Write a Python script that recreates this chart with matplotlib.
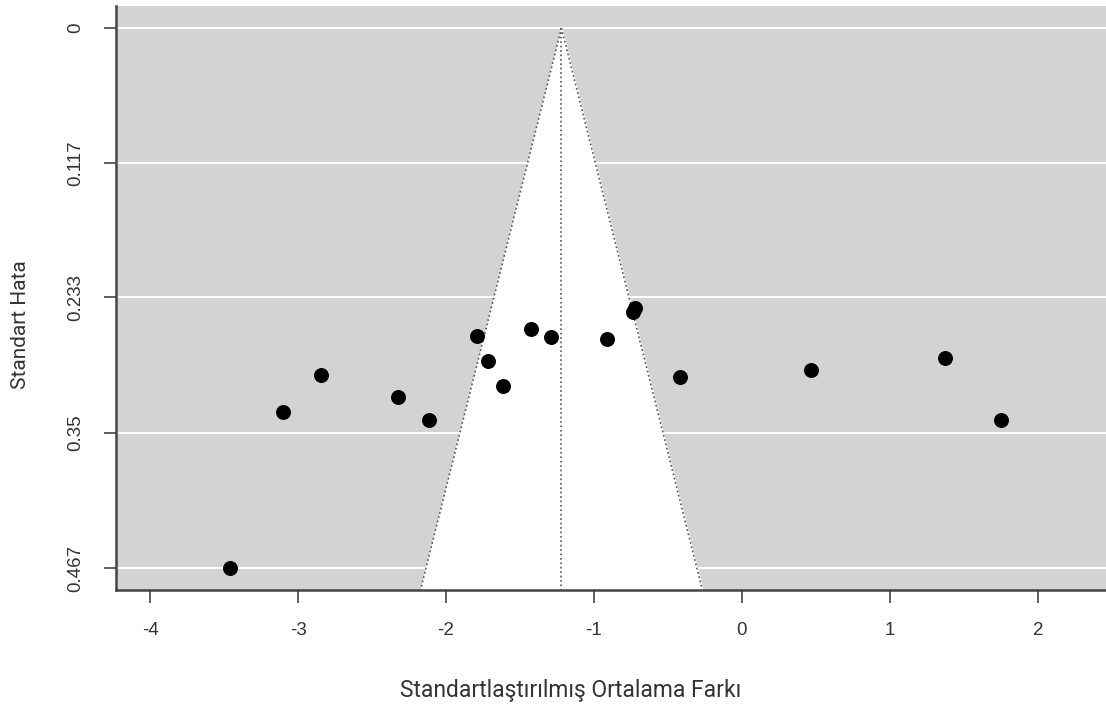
import matplotlib
matplotlib.use("Agg")
import matplotlib.pyplot as plt
import numpy as np

# effect sizes (standardized mean difference) and their standard errors
smd = [-3.46, -3.10, -2.845, -2.324, -2.115, -1.79, -1.716, -1.615, -1.426,
       -1.29, -0.912, -0.736, -0.723, -0.419, 0.466, 1.372, 1.75]
se = [0.467, 0.332, 0.300, 0.319, 0.339, 0.266, 0.288, 0.310, 0.260,
      0.267, 0.269, 0.246, 0.242, 0.302, 0.296, 0.285, 0.339]
pooled = -1.22
yticks = [0, 0.117, 0.233, 0.35, 0.467]
ytick_labels = ["0", "0.117", "0.233", "0.35", "0.467"]
xticks = [-4, -3, -2, -1, 0, 1, 2]

plt.rcParams['font.family'] = ['Liberation Sans', 'DejaVu Sans']

fig = plt.figure(figsize=(11.06, 7.07), dpi=100)
ax = fig.add_axes([0.1049, 0.1655, 0.8951, 0.826])

ylo, yhi = -0.019, 0.486
ax.set_xlim(-4.23, 2.46)
ax.set_ylim(yhi, ylo)
ax.set_facecolor("#d3d3d3")

# funnel region
se_line = np.array([0, yhi])
ax.fill_betweenx(se_line, pooled - 1.96 * se_line, pooled + 1.96 * se_line,
                 color="white", zorder=2)
ax.plot(pooled - 1.96 * se_line, se_line, ls=":", color="#555555", lw=1.2, zorder=3)
ax.plot(pooled + 1.96 * se_line, se_line, ls=":", color="#555555", lw=1.2, zorder=3)
ax.plot([pooled, pooled], [0, yhi], ls=":", color="#555555", lw=1.2, zorder=3)

for yv in yticks:
    ax.axhline(yv, color="white", lw=1.5, zorder=1)

ax.scatter(smd, se, s=95, color="black", zorder=4)

ax.set_xticks(xticks)
ax.set_xticklabels([str(v) for v in xticks])
ax.set_yticks(yticks)
ax.set_yticklabels(ytick_labels, rotation=90, va="center")
ax.tick_params(axis="both", labelsize=13.5, length=9, width=1.2, color="#444444",
               labelcolor="#333333")
ax.tick_params(axis="x", pad=14)
ax.tick_params(axis="y", pad=14)

for side in ["top", "right"]:
    ax.spines[side].set_visible(False)
for side in ["left", "bottom"]:
    ax.spines[side].set_color("#444444")
    ax.spines[side].set_linewidth(1.8)

fig.text(571 / 1106, 1 - 690 / 707, "Standartlaştırılmış Ortalama Farkı",
         fontsize=16.5, color="#333333", family=["Roboto", "DejaVu Sans"],
         ha="center", va="center")
fig.text(21 / 1106, 1 - 325 / 707, "Standart Hata", rotation=90,
         fontsize=15, color="#333333", family=["Roboto", "DejaVu Sans"],
         ha="center", va="center")

fig.savefig("out.png", dpi=100)
